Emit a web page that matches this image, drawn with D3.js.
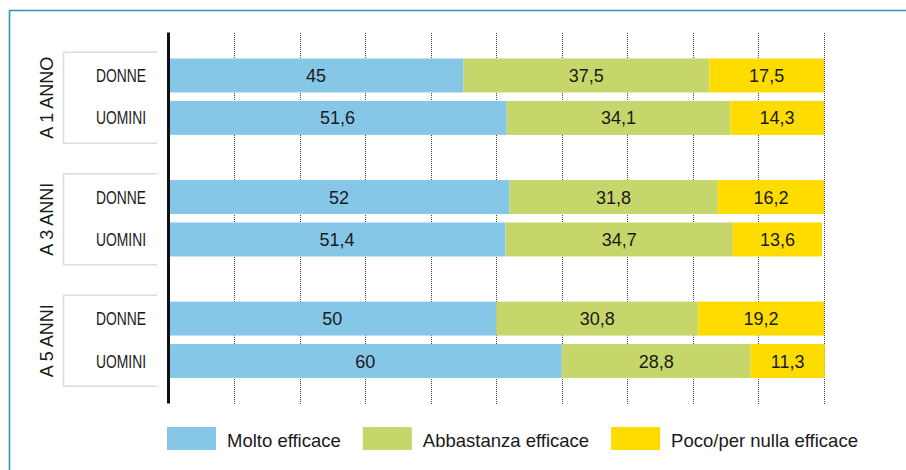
<!DOCTYPE html>
<html lang="it">
<head>
<meta charset="UTF-8" />
<title>Efficacia</title>
<script src="https://d3js.org/d3.v7.min.js"></script>
<style>
  body { margin: 0; background: #fff; }
  text { font-family: "Liberation Sans", Arial, sans-serif; fill: #1a1a1a; }
  .row-label { font-size: 18px; }
</style>
</head>
<body>
<svg id="chart"></svg>
<script>
// data
var groups = ["A 1 ANNO", "A 3 ANNI", "A 5 ANNI"];
var genders = ["DONNE", "UOMINI"];
var series = ["Molto efficace", "Abbastanza efficace", "Poco/per nulla efficace"];
var molto = [45, 51.6, 52, 51.4, 50, 60];
var abbastanza = [37.5, 34.1, 31.8, 34.7, 30.8, 28.8];
var poco = [17.5, 14.3, 16.2, 13.6, 19.2, 11.3];
var gridTicks = [10, 20, 30, 40, 50, 60, 70, 80, 90, 100];
var colors = ["#86c7e8", "#c6d66a", "#ffdc00"];

var width = 906, height = 470;

var svg = d3.select("#chart")
    .attr("width", width)
    .attr("height", height);

// frame
svg.append("path")
    .attr("d", "M9.5,470 V10.5 H906")
    .attr("fill", "none")
    .attr("stroke", "#2e93b4")
    .attr("stroke-width", 1.6);

// build rows
var rows = [];
groups.forEach(function (g, gi) {
    genders.forEach(function (s, si) {
        var i = gi * genders.length + si;
        rows.push({ group: g, gender: s, values: [molto[i], abbastanza[i], poco[i]] });
    });
});

var x = d3.scaleLinear().domain([0, 100]).range([168.5, 824]);

var yGroup = d3.scaleBand()
    .domain(groups)
    .range([58.5, 378])
    .paddingInner(0.3717);

var yRow = d3.scaleBand()
    .domain(genders)
    .range([0, yGroup.bandwidth()])
    .paddingInner(0.2);

function rowY(d) { return yGroup(d.group) + yRow(d.gender); }

// gridlines
svg.append("g").selectAll("line")
    .data(gridTicks)
    .enter().append("line")
    .attr("x1", function (d) { return Math.round(x(d)) + 0.5; })
    .attr("x2", function (d) { return Math.round(x(d)) + 0.5; })
    .attr("y1", 33)
    .attr("y2", 404)
    .attr("stroke", "#444")
    .attr("stroke-width", 1)
    .attr("stroke-dasharray", "1,1");

// label boxes
var boxH = 91;
svg.append("g").selectAll("path")
    .data(groups)
    .enter().append("path")
    .attr("d", function (g) {
        var c = yGroup(g) + yGroup.bandwidth() / 2 + 1;
        var t = c - boxH / 2, b = c + boxH / 2;
        return "M157," + t + " H63.5 V" + b + " H157";
    })
    .attr("fill", "none")
    .attr("stroke", "#dcdcdc")
    .attr("stroke-width", 1.6);

// group labels
svg.append("g").selectAll("text")
    .data(groups)
    .enter().append("text")
    .attr("transform", function (g) {
        return "translate(53," + (yGroup(g) + yGroup.bandwidth() / 2 + 1) + ") rotate(-90)";
    })
    .attr("text-anchor", "middle")
    .style("font-size", "18px")
    .text(function (g) { return g; });

// row labels (condensed)
svg.append("g").selectAll("text")
    .data(rows)
    .enter().append("text")
    .attr("class", "row-label")
    .attr("transform", function (d) {
        return "translate(146," + (rowY(d) + yRow.bandwidth() / 2) + ") scale(0.77,1)";
    })
    .attr("dy", "0.36em")
    .attr("text-anchor", "end")
    .text(function (d) { return d.gender; });

// stacked bars
var stack = rows.map(function (d) {
    var acc = 0;
    return d.values.map(function (v, k) {
        var seg = { row: d, k: k, v: v, x0: acc, x1: acc + v };
        acc += v;
        return seg;
    });
});
var segs = [].concat.apply([], stack);

var fmt = function (v) { return String(v).replace(".", ","); };

svg.append("g").selectAll("rect")
    .data(segs)
    .enter().append("rect")
    .attr("x", function (d) { return x(d.x0); })
    .attr("width", function (d) { return x(d.x1) - x(d.x0); })
    .attr("y", function (d) { return rowY(d.row); })
    .attr("height", yRow.bandwidth())
    .attr("fill", function (d) { return colors[d.k]; });

svg.append("g").selectAll("text")
    .data(segs)
    .enter().append("text")
    .attr("x", function (d) { return (x(d.x0) + x(d.x1)) / 2; })
    .attr("y", function (d) { return rowY(d.row) + yRow.bandwidth() / 2; })
    .attr("dy", "0.36em")
    .attr("text-anchor", "middle")
    .style("font-size", "18px")
    .text(function (d) { return fmt(d.v); });

// axis line
svg.append("line")
    .attr("x1", x(0)).attr("x2", x(0))
    .attr("y1", 32.5).attr("y2", 403.5)
    .attr("stroke", "#111")
    .attr("stroke-width", 3);

// legend
var legend = svg.append("g");
var lx = 167;
series.forEach(function (s, k) {
    legend.append("rect")
        .attr("x", lx).attr("y", 427)
        .attr("width", 49).attr("height", 23)
        .attr("fill", colors[k]);
    var t = legend.append("text")
        .attr("x", lx + 60).attr("y", 447)
        .style("font-size", "18.5px")
        .text(s);
    lx += 60 + t.node().getComputedTextLength() + 22;
});
</script>
</body>
</html>
